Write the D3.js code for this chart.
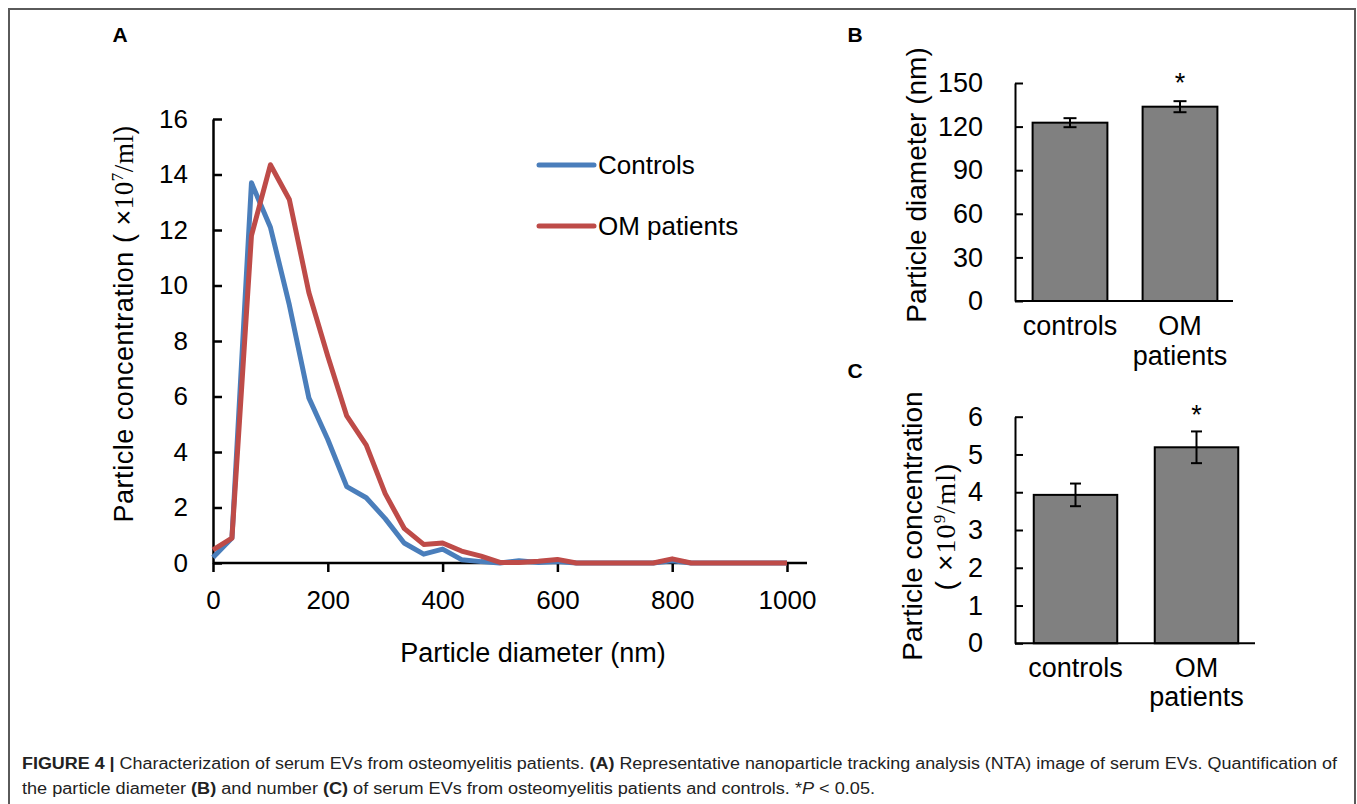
<!DOCTYPE html>
<html>
<head>
<meta charset="utf-8">
<script src="https://cdn.jsdelivr.net/npm/d3@7"></script>
<style>
  body { margin: 0; background: #fff; }
  svg { display: block; font-family: "Liberation Sans", Arial, sans-serif; }
</style>
</head>
<body>
<div id="fig"></div>
<script>
// Panel A: NTA size distribution (x10^7 particles/ml)
const diameters = [0, 33, 67, 100, 133, 167, 200, 233, 267, 300, 333, 367, 400, 433, 467, 500,
  533, 567, 600, 633, 667, 700, 733, 767, 800, 833, 867, 900, 933, 967, 1000];
const controlsConc = [0.2, 0.9, 13.7, 12.1, 9.3, 5.95, 4.45, 2.75, 2.35, 1.6, 0.72, 0.32, 0.5, 0.12, 0.05, 0,
  0.08, 0.02, 0.05, 0, 0, 0, 0, 0, 0.08, 0, 0, 0, 0, 0, 0];
const omConc = [0.47, 0.9, 11.8, 14.35, 13.1, 9.75, 7.45, 5.3, 4.25, 2.5, 1.25, 0.67, 0.72, 0.43, 0.25, 0.02,
  0.02, 0.06, 0.13, 0, 0, 0, 0, 0, 0.15, 0, 0, 0, 0, 0, 0];
const seriesNames = ["Controls", "OM patients"];
const seriesColors = ["#4a7ebb", "#be4b48"];
const xTicksA = [0, 200, 400, 600, 800, 1000];
const yTicksA = [0, 2, 4, 6, 8, 10, 12, 14, 16];

// Panel B / C: bar charts
const groups = ["controls", "OM patients"];
const diameterMean = [122.7, 133.7];
const diameterErr = [3.1, 3.8];
const yTicksB = [0, 30, 60, 90, 120, 150];
const concMean = [3.93, 5.19];
const concErr = [0.3, 0.42];
const yTicksC = [0, 1, 2, 3, 4, 5, 6];

const W = 1357, H = 804;
const fmt = d3.format("d");
const svg = d3.select("#fig").append("svg").attr("width", W).attr("height", H);

// outer frame (open at bottom, as in the cropped figure)
svg.append("path")
  .attr("d", `M9,${H} V9 H1355 V${H}`)
  .attr("fill", "none").attr("stroke", "#5a5a5a").attr("stroke-width", 2);

// panel letters
[["A", 120, 42], ["B", 855, 42], ["C", 855, 378]].forEach(([t, px, py]) => {
  svg.append("text").attr("x", px).attr("y", py).attr("text-anchor", "middle")
    .style("font-weight", "bold").style("font-size", "21px").text(t);
});

// ---------- Panel A ----------
const x = d3.scaleLinear().domain([0, 1000]).range([213, 787]);
const y = d3.scaleLinear().domain([0, 16]).range([563, 119]);

const gA = svg.append("g");
const axA = gA.append("g").attr("transform", `translate(0,${y(0)})`)
  .call(d3.axisBottom(x).tickValues(xTicksA).tickFormat(fmt).tickSizeInner(9).tickSizeOuter(0).tickPadding(19));
axA.select(".domain").remove();
gA.append("line").attr("x1", x.range()[0]).attr("x2", x.range()[1] + 20)
  .attr("y1", y(0)).attr("y2", y(0)).attr("stroke", "#000").attr("stroke-width", 2.5);

const ayA = gA.append("g").attr("transform", `translate(${x(0)},0)`)
  .call(d3.axisLeft(y).tickValues(yTicksA).tickFormat(fmt).tickSizeInner(-9).tickSizeOuter(0).tickPadding(25));

[axA, ayA].forEach(g => {
  g.selectAll("line").attr("stroke-width", 2.5);
  g.select(".domain").attr("stroke-width", 2.5);
  g.selectAll("text").style("font-size", "26px").style("font-family", "Liberation Sans, Arial").attr("fill", "#000");
});

const line = d3.line().x((d, i) => x(diameters[i])).y(d => y(d));
[controlsConc, omConc].forEach((s, k) => {
  gA.append("path").datum(s).attr("d", line)
    .attr("fill", "none").attr("stroke", seriesColors[k]).attr("stroke-width", 5)
    .attr("stroke-linejoin", "round");
});

// legend
seriesNames.forEach((n, k) => {
  const ly = 165 + k * 61;
  gA.append("line").attr("x1", 539).attr("x2", 594).attr("y1", ly).attr("y2", ly)
    .attr("stroke", seriesColors[k]).attr("stroke-width", 5).attr("stroke-linecap", "round");
  gA.append("text").attr("x", 598).attr("y", ly + 9).style("font-size", "26px").text(n);
});

// axis titles
gA.append("text").attr("x", 533).attr("y", 662).attr("text-anchor", "middle")
  .style("font-size", "27px").text("Particle diameter (nm)");

function unitTitle(sel, lead, power) {
  sel.append("tspan").text(lead + "(");
  sel.append("tspan").text(" ×");
  sel.append("tspan").style("font-family", "Liberation Serif, serif").text("10");
  sel.append("tspan").style("font-family", "Liberation Serif, serif").style("font-size", "17px").attr("dy", -10).text(power);
  sel.append("tspan").style("font-family", "Liberation Serif, serif").attr("dy", 10).text("/ml");
  sel.append("tspan").text(")");
}
const tA = gA.append("text").attr("transform", "translate(133,324) rotate(-90)")
  .attr("text-anchor", "middle").style("font-size", "27px")
  .attr("textLength", 397).attr("lengthAdjust", "spacing");
unitTitle(tA, "Particle concentration ", "7");

// ---------- bar panels ----------
function barPanel({ top, bottom, domainMax, ticks, rangeEnd, padIn, means, errs, cap, starY, axisEnd }) {
  const yb = d3.scaleLinear().domain([0, domainMax]).range([bottom, top]);
  const xb = d3.scaleBand().domain(groups).range([1015, rangeEnd]).paddingInner(padIn).paddingOuter(padIn / 2);
  const g = svg.append("g");

  g.selectAll("rect").data(means).join("rect")
    .attr("x", (d, i) => xb(groups[i])).attr("width", xb.bandwidth())
    .attr("y", d => yb(d)).attr("height", d => yb(0) - yb(d))
    .attr("fill", "#808080").attr("stroke", "#000").attr("stroke-width", 2);

  const ay = g.append("g").attr("transform", "translate(1015,0)")
    .call(d3.axisLeft(yb).tickValues(ticks).tickFormat(fmt).tickSizeInner(-8).tickSizeOuter(0).tickPadding(32));
  ay.selectAll("line").attr("stroke-width", 2);
  ay.select(".domain").attr("stroke-width", 2);
  ay.selectAll("text").style("font-size", "27px").style("font-family", "Liberation Sans, Arial").attr("fill", "#000");

  g.append("line").attr("x1", 1015).attr("x2", axisEnd).attr("y1", yb(0)).attr("y2", yb(0))
    .attr("stroke", "#000").attr("stroke-width", 2);

  means.forEach((m, i) => {
    const cx = xb(groups[i]) + xb.bandwidth() / 2;
    const hi = yb(m + errs[i]), lo = yb(m - errs[i]);
    g.append("line").attr("x1", cx).attr("x2", cx).attr("y1", hi).attr("y2", lo).attr("stroke", "#000").attr("stroke-width", 2);
    [hi, lo].forEach(v => g.append("line").attr("x1", cx - cap).attr("x2", cx + cap)
      .attr("y1", v).attr("y2", v).attr("stroke", "#000").attr("stroke-width", 2));
  });
  const c2 = xb(groups[1]) + xb.bandwidth() / 2;
  g.append("text").attr("x", c2).attr("y", starY).attr("text-anchor", "middle").style("font-size", "27px").text("*");
  return { xb, yb, g };
}

const B = barPanel({ top: 83, bottom: 301, domainMax: 150, ticks: yTicksB, rangeEnd: 1235, padIn: 0.32,
  means: diameterMean, errs: diameterErr, cap: 6.5, starY: 92, axisEnd: 1233 });
const C = barPanel({ top: 416.7, bottom: 643.3, domainMax: 6, ticks: yTicksC, rangeEnd: 1257, padIn: 0.31,
  means: concMean, errs: concErr, cap: 5.5, starY: 424, axisEnd: 1255 });

// category labels
[[B, 335, 365], [C, 677, 706]].forEach(([P, b1, b2]) => {
  const c1 = P.xb(groups[0]) + P.xb.bandwidth() / 2;
  const c2 = P.xb(groups[1]) + P.xb.bandwidth() / 2;
  P.g.append("text").attr("x", c1).attr("y", b1).attr("text-anchor", "middle").style("font-size", "27px").text("controls");
  P.g.append("text").attr("x", c2).attr("y", b1).attr("text-anchor", "middle").style("font-size", "27px").text("OM");
  P.g.append("text").attr("x", c2).attr("y", b2).attr("text-anchor", "middle").style("font-size", "27px").text("patients");
});

B.g.append("text").attr("transform", "translate(926,185) rotate(-90)").attr("text-anchor", "middle")
  .style("font-size", "28px").text("Particle diameter (nm)");
C.g.append("text").attr("transform", "translate(922,526) rotate(-90)").attr("text-anchor", "middle")
  .style("font-size", "28px").text("Particle concentration");
const tC = C.g.append("text").attr("transform", "translate(955,527) rotate(-90)").attr("text-anchor", "middle")
  .style("font-size", "28px").attr("textLength", 127).attr("lengthAdjust", "spacing");
unitTitle(tC, "", "9");

// ---------- caption ----------
const cap1 = svg.append("text").attr("x", 22).attr("y", 769).style("font-size", "16px").attr("fill", "#222")
  .attr("textLength", 1315).attr("lengthAdjust", "spacingAndGlyphs");
cap1.append("tspan").style("font-weight", "bold").text("FIGURE 4 | ");
cap1.append("tspan").text("Characterization of serum EVs from osteomyelitis patients. ");
cap1.append("tspan").style("font-weight", "bold").text("(A)");
cap1.append("tspan").text(" Representative nanoparticle tracking analysis (NTA) image of serum EVs. Quantification of");

const cap2 = svg.append("text").attr("x", 22).attr("y", 794).style("font-size", "16px").attr("fill", "#222")
  .attr("textLength", 853).attr("lengthAdjust", "spacingAndGlyphs");
cap2.append("tspan").text("the particle diameter ");
cap2.append("tspan").style("font-weight", "bold").text("(B)");
cap2.append("tspan").text(" and number ");
cap2.append("tspan").style("font-weight", "bold").text("(C)");
cap2.append("tspan").text(" of serum EVs from osteomyelitis patients and controls. *");
cap2.append("tspan").style("font-style", "italic").text("P");
cap2.append("tspan").text(" < 0.05.");
</script>
</body>
</html>
